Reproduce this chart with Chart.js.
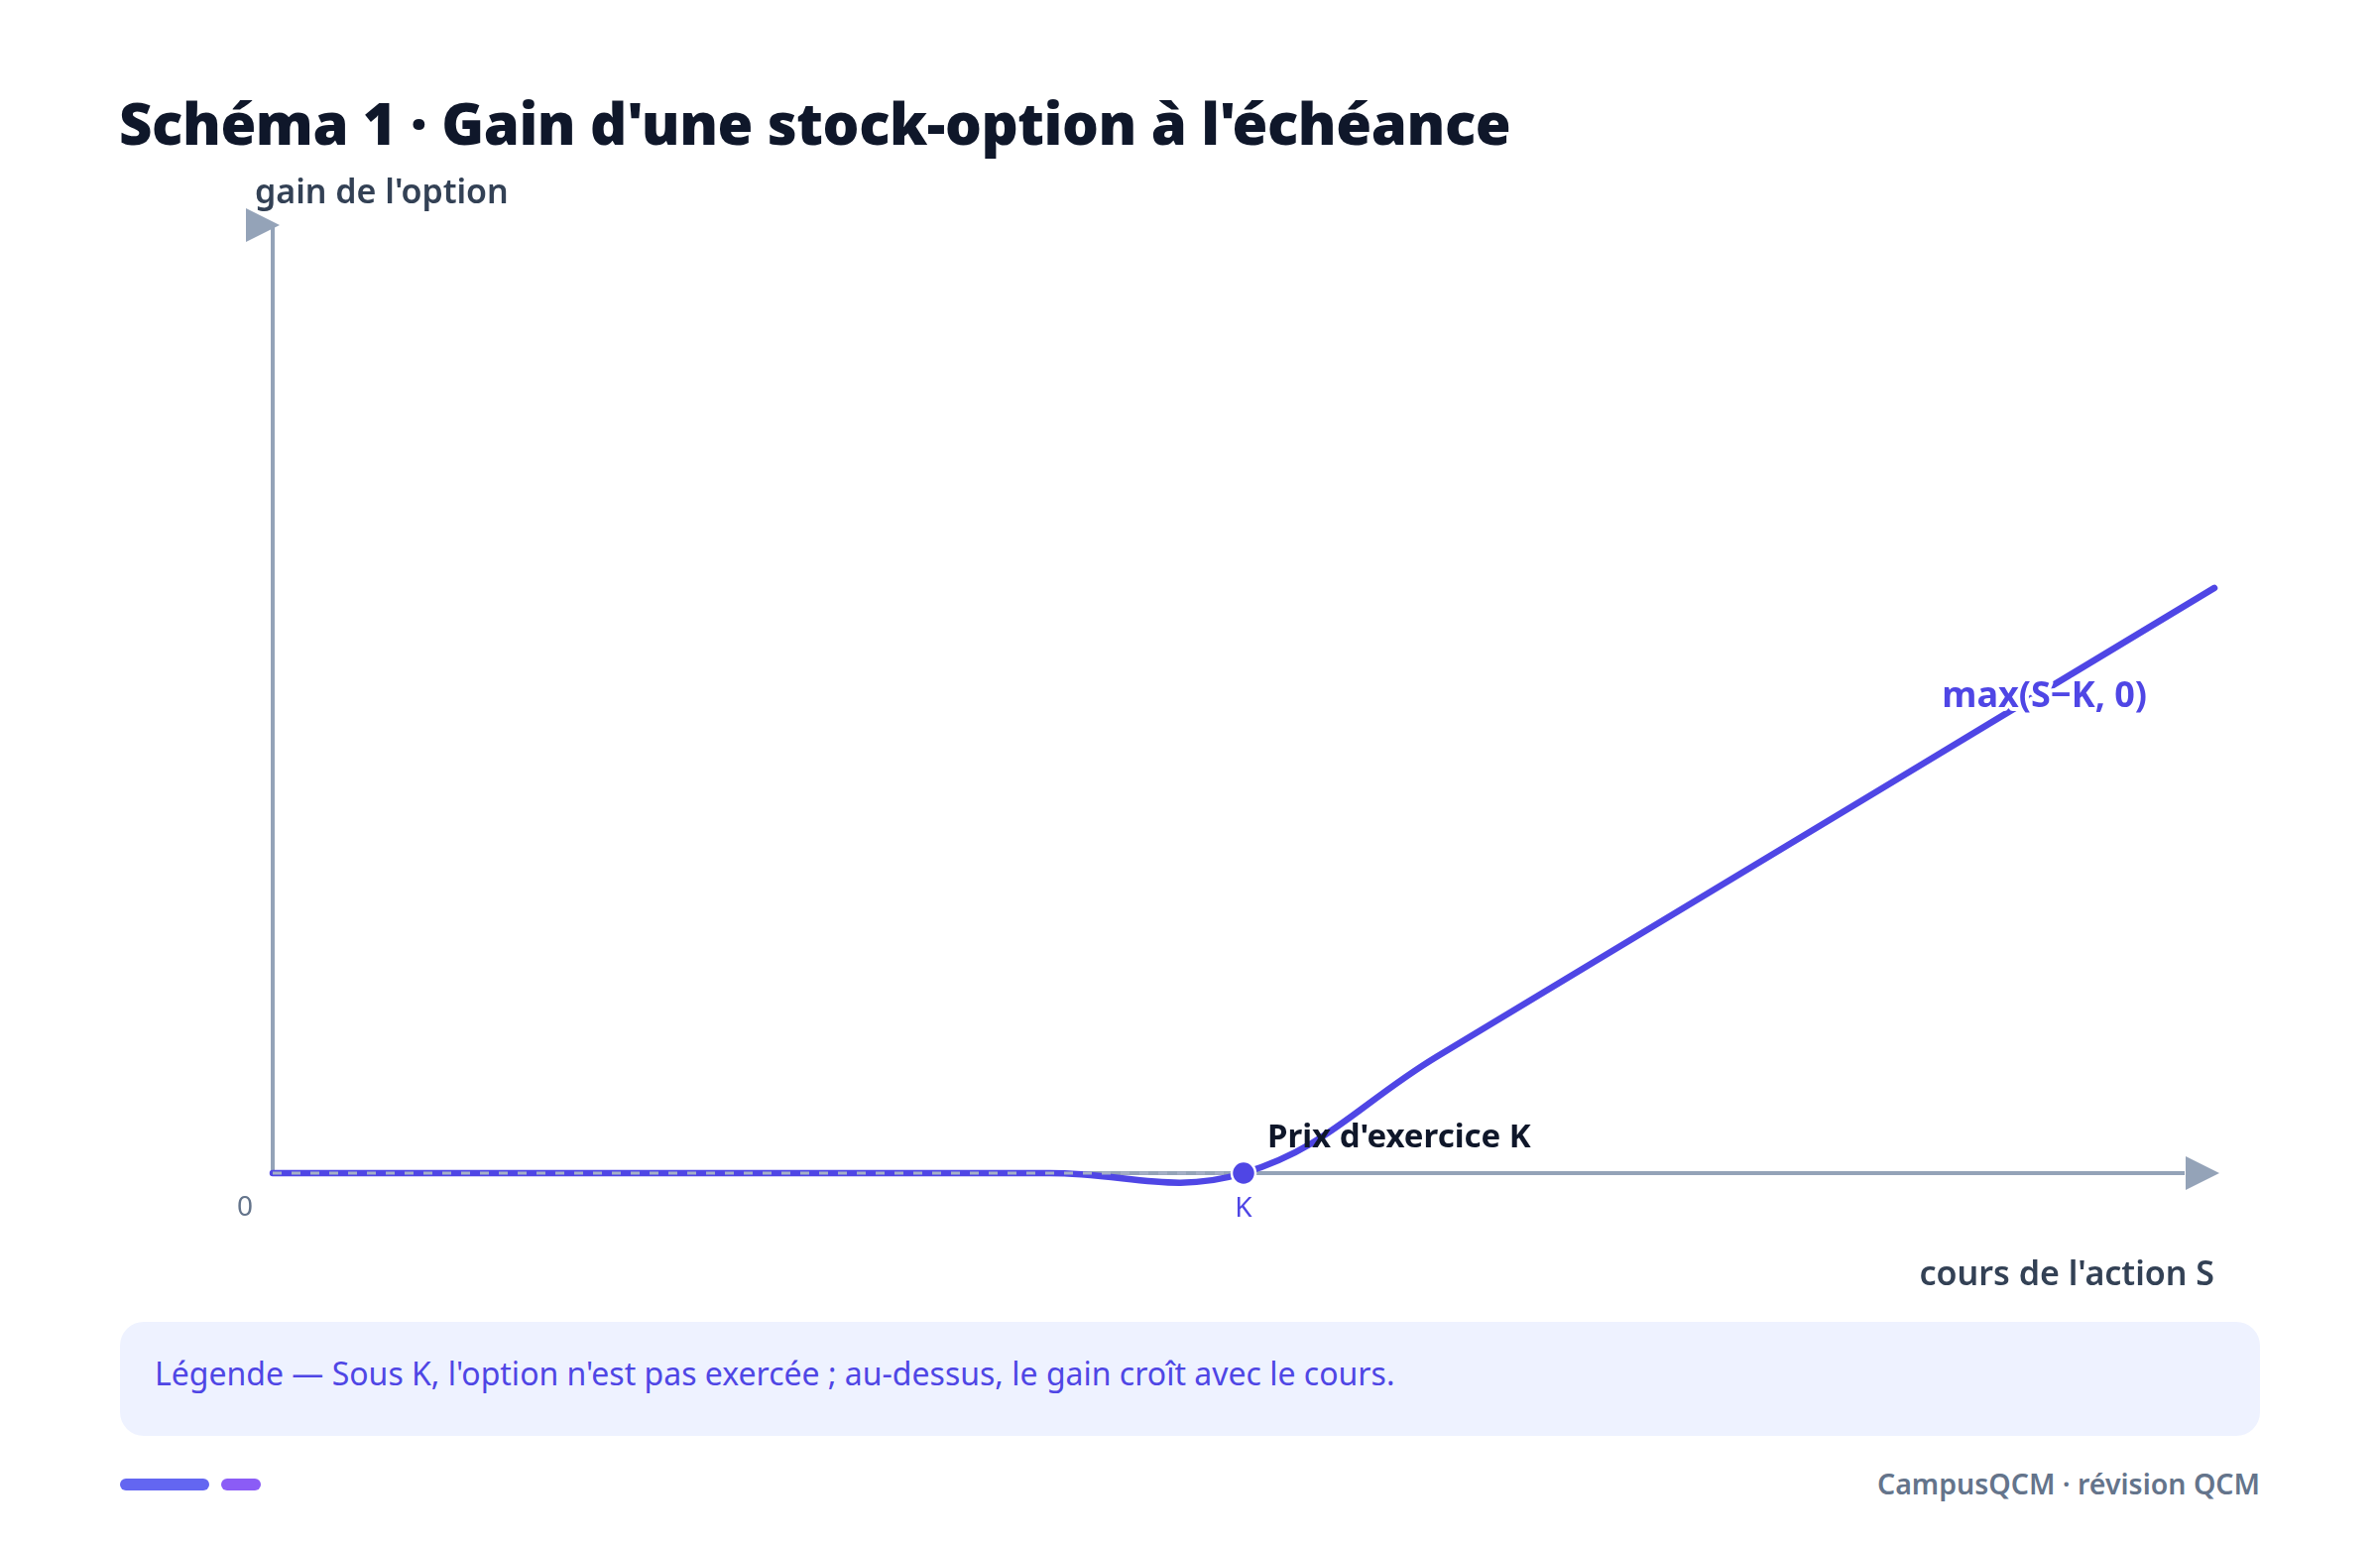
<!DOCTYPE html>
<html lang="fr">
<head>
<meta charset="utf-8">
<script src="https://cdn.jsdelivr.net/npm/chart.js@4.4.0/dist/chart.umd.min.js"></script>
<style>
  html, body { margin: 0; padding: 0; background: #ffffff; }
  body { width: 2400px; height: 1558px; position: relative; overflow: hidden; font-family: "Noto Sans", sans-serif; }
  #title { position: absolute; left: 120px; top: 84px; margin: 0; font-size: 58px; font-weight: 900; color: #0f172a; letter-spacing: -0.4px; white-space: nowrap; }
  #wrap { position: absolute; left: 0; top: 0; width: 2400px; height: 1320px; }
  #note { position: absolute; left: 121px; top: 1333px; width: 2158px; height: 115px; background: #eef2ff; border-radius: 24px; }
  #note span { position: absolute; left: 35px; top: 30px; font-size: 32px; color: #4f46e5; white-space: nowrap; }
  .pill { position: absolute; top: 1491px; height: 12px; border-radius: 6px; }
  #brand { position: absolute; right: 121px; top: 1477px; font-size: 28.5px; font-weight: 600; color: #64748b; white-space: nowrap; }
</style>
</head>
<body>
<h1 id="title">Schéma 1 · Gain d'une stock-option à l'échéance</h1>
<div id="wrap"><canvas id="payoff" width="2400" height="1320"></canvas></div>
<div id="note"><span>Légende — Sous K, l'option n'est pas exercée ; au-dessus, le gain croît avec le cours.</span></div>
<div class="pill" style="left:121px;width:90px;background:#6366f1;"></div>
<div class="pill" style="left:223px;width:40px;background:#8b5cf6;"></div>
<div id="brand">CampusQCM · révision QCM</div>
<script>
const coursS = [0, 20, 40, 60, 80, 100, 120, 140, 160, 180, 200];
const gain = [0, 0, 0, 0, 0, 0, 20, 40, 60, 80, 100];
const coursSousK = [0, 20, 40, 60, 80, 100];
const gainSousK = [0, 0, 0, 0, 0, 0];
const strikeK = 100;
const xMax = 200;
const yMax = 162;

const indigo = '#4f46e5';
const axisGrey = '#94a3b8';

// axes with arrow heads + annotations, drawn by hand
const decor = {
  id: 'decor',
  beforeDatasetsDraw(chart) {
    const { ctx, chartArea: a, scales: { x, y } } = chart;
    const y0 = y.getPixelForValue(0);
    ctx.save();
    ctx.strokeStyle = axisGrey;
    ctx.fillStyle = axisGrey;
    ctx.lineWidth = 4;
    ctx.beginPath();
    ctx.moveTo(a.left, y0);
    ctx.lineTo(a.right - 30, y0);
    ctx.moveTo(a.left, y0);
    ctx.lineTo(a.left, a.top);
    ctx.stroke();
    // x arrow
    ctx.beginPath();
    ctx.moveTo(a.right + 5, y0);
    ctx.lineTo(a.right - 29, y0 - 17);
    ctx.lineTo(a.right - 29, y0 + 17);
    ctx.closePath();
    ctx.fill();
    // y arrow (as in the source, pointing sideways)
    ctx.beginPath();
    ctx.moveTo(a.left + 7, a.top);
    ctx.lineTo(a.left - 27, a.top - 17);
    ctx.lineTo(a.left - 27, a.top + 17);
    ctx.closePath();
    ctx.fill();
    ctx.restore();
  },
  afterDatasetsDraw(chart) {
    const { ctx, chartArea: a, scales: { x, y } } = chart;
    const y0 = y.getPixelForValue(0);
    const xk = x.getPixelForValue(strikeK);
    ctx.save();
    ctx.textBaseline = 'middle';

    ctx.font = '600 34px "Noto Sans"';
    ctx.fillStyle = '#334155';
    ctx.textAlign = 'left';
    ctx.fillText("gain de l'option", a.left - 18, a.top - 32);
    ctx.textAlign = 'right';
    ctx.fillText("cours de l'action S", a.right, y0 + 103);

    ctx.font = '28px "Noto Sans"';
    ctx.textAlign = 'center';
    ctx.fillStyle = '#64748b';
    ctx.fillText('0', a.left - 28, y0 + 35);
    ctx.fillStyle = indigo;
    ctx.fillText('K', xk, y0 + 36);

    ctx.font = '700 33px "Noto Sans"';
    ctx.textAlign = 'left';
    ctx.fillStyle = '#0f172a';
    ctx.fillText("Prix d'exercice K", xk + 24, y0 - 35);

    // label on the payoff line, with a white halo
    const lx = x.getPixelForValue(182.5);
    const ly = y.getPixelForValue(83) + 10;
    ctx.font = '700 36px "Noto Sans"';
    ctx.textAlign = 'center';
    ctx.lineWidth = 8;
    ctx.lineJoin = 'round';
    ctx.strokeStyle = '#ffffff';
    ctx.strokeText('max(S−K, 0)', lx, ly);
    ctx.fillStyle = indigo;
    ctx.fillText('max(S−K, 0)', lx, ly);
    ctx.restore();
  }
};

new Chart(document.getElementById('payoff'), {
  type: 'line',
  data: {
    datasets: [
      {
        label: 'K',
        data: [{ x: strikeK, y: 0 }],
        showLine: false,
        pointRadius: 12,
        pointBackgroundColor: indigo,
        pointBorderColor: '#ffffff',
        pointBorderWidth: 2.5,
        clip: false
      },
      {
        label: 'non exercée',
        data: coursSousK.map((s, i) => ({ x: s, y: gainSousK[i] })),
        borderColor: '#a5afc6',
        borderWidth: 3,
        borderDash: [9, 10],
        pointRadius: 0,
        tension: 0,
        clip: false
      },
      {
        label: 'gain',
        data: coursS.map((s, i) => ({ x: s, y: gain[i] })),
        borderColor: indigo,
        borderWidth: 6.5,
        borderCapStyle: 'round',
        pointRadius: 0,
        tension: 0.4,
        capBezierPoints: false,
        fill: false,
        clip: false
      }
    ]
  },
  options: {
    responsive: false,
    devicePixelRatio: 1,
    animation: false,
    layout: { padding: { left: 275, right: 167, top: 227, bottom: 137 } },
    scales: {
      x: { type: 'linear', min: 0, max: xMax, display: false },
      y: { min: 0, max: yMax, display: false }
    },
    plugins: { legend: { display: false }, tooltip: { enabled: false } }
  },
  plugins: [decor]
});
</script>
</body>
</html>
